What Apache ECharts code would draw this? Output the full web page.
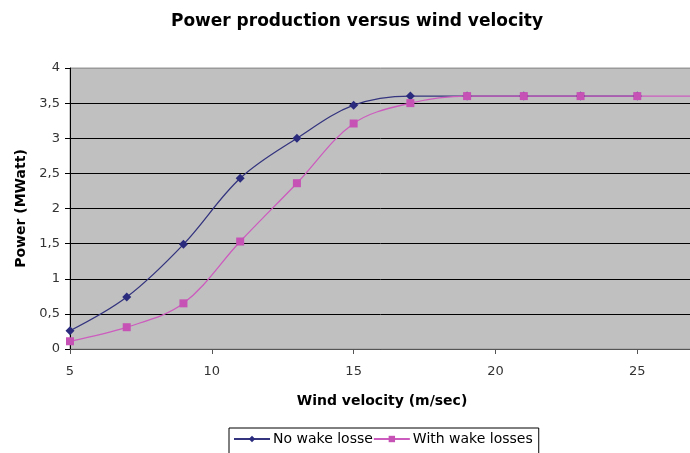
<!DOCTYPE html>
<html>
<head>
<meta charset="utf-8">
<script src="https://cdn.jsdelivr.net/npm/echarts@6/dist/echarts.min.js"></script>
<style>
  html, body { margin: 0; padding: 0; background: #fff; }
  #chart { width: 690px; height: 453px; }
</style>
</head>
<body>
<div id="chart"></div>
<script>
// wind velocity (m/sec) at the marked points
var windSpeed = [5, 7, 9, 11, 13, 15, 17, 19, 21, 23, 25];
var noWake = [0.26, 0.74, 1.49, 2.43, 3.0, 3.47, 3.6, 3.6, 3.6, 3.6, 3.6];
var withWake = [0.11, 0.31, 0.65, 1.53, 2.36, 3.21, 3.5, 3.6, 3.6, 3.6, 3.6];
// the with-wake line runs on past the last marker to the edge
var tailSpeed = 27;
var tailWithWake = 3.6;

var seriesNames = ['No wake losse', 'With wake losses'];
var xTicks = [5, 10, 15, 20, 25];
var yTicks = [0, 0.5, 1, 1.5, 2, 2.5, 3, 3.5, 4];

var font = 'DejaVu Sans, Verdana, sans-serif';

function pairs(xs, ys) {
  return xs.map(function (x, i) { return [x, ys[i]]; });
}

var pinkData = pairs(windSpeed, withWake);
pinkData.push({ value: [tailSpeed, tailWithWake], symbol: 'none' });

var myChart = echarts.init(document.getElementById('chart'));
myChart.setOption({
  animation: false,
  title: {
    text: 'Power production versus wind velocity',
    left: 352,
    textAlign: 'center',
    top: 8,
    textStyle: { fontFamily: font, fontSize: 17, fontWeight: 'bold', color: '#000' }
  },
  grid: {
    left: 70,
    width: 624, // plot runs a little past the right edge of the picture
    top: 68,
    bottom: 104,
    outerBoundsMode: 'none',
    show: true,
    backgroundColor: '#C0C0C0',
    borderColor: '#9a9a9a',
    borderWidth: 1
  },
  legend: {
    data: seriesNames,
    left: 229,
    top: 428,
    padding: [4, 6, 8, 4],
    itemGap: 0,
    itemWidth: 36,
    itemHeight: 8,
    borderColor: '#000',
    borderWidth: 1,
    textStyle: { fontFamily: font, fontSize: 14, color: '#000', padding: [0, 0, 0, -2] }
  },
  xAxis: {
    type: 'value',
    min: 5,
    max: tailSpeed,
    interval: 5,
    name: 'Wind velocity (m/sec)',
    nameLocation: 'middle',
    nameGap: 45,
    nameTextStyle: { fontFamily: font, fontSize: 14, fontWeight: 'bold', color: '#000' },
    axisLine: { lineStyle: { color: '#555', width: 1 } },
    axisTick: { show: true, length: 5, lineStyle: { color: '#555' } },
    axisLabel: {
      fontFamily: font, fontSize: 13, color: '#333', margin: 16,
      formatter: function (v) { return xTicks.indexOf(v) >= 0 ? String(v) : ''; }
    },
    splitLine: { show: false }
  },
  yAxis: {
    type: 'value',
    min: 0,
    max: 4,
    interval: 0.5,
    name: 'Power (MWatt)',
    nameLocation: 'middle',
    nameGap: 42,
    nameTextStyle: { fontFamily: font, fontSize: 14, fontWeight: 'bold', color: '#000' },
    axisLine: { show: true, lineStyle: { color: '#000', width: 1 } },
    axisTick: { show: true, length: 5, lineStyle: { color: '#000' } },
    axisLabel: {
      fontFamily: font, fontSize: 13, color: '#333', margin: 10,
      formatter: function (v) {
        return yTicks.indexOf(v) >= 0 ? String(v).replace('.', ',') : '';
      }
    },
    splitLine: {
      show: true,
      lineStyle: {
        color: ['#000', '#000', '#000', '#000', '#000', '#000', '#000', '#000', '#9a9a9a'],
        width: 1
      }
    }
  },
  series: [
    {
      name: seriesNames[0],
      type: 'line',
      smooth: 0.35,
      symbol: 'diamond',
      symbolSize: 9,
      color: '#2B2B7E',
      lineStyle: { width: 1.3, color: '#34347F' },
      data: pairs(windSpeed, noWake)
    },
    {
      name: seriesNames[1],
      type: 'line',
      smooth: 0.35,
      symbol: 'rect',
      symbolSize: 8,
      color: '#C552B4',
      lineStyle: { width: 1.3, color: '#CC5CBE' },
      data: pinkData
    }
  ]
});
</script>
</body>
</html>
